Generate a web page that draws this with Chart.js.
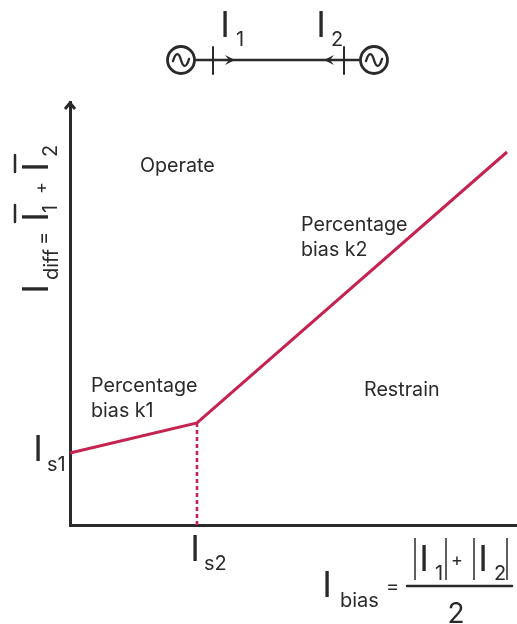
<!DOCTYPE html>
<html>
<head>
<meta charset="utf-8">
<script src="https://cdn.jsdelivr.net/npm/chart.js@4"></script>
<style>
  html, body { margin: 0; padding: 0; background: #fff; }
  canvas { display: block; }
</style>
</head>
<body>
<canvas id="chart" width="517" height="624"></canvas>
<script>
// characteristic (axis units)
var biasX = [0, 127, 437];
var diffY = [72, 102, 373];
var kneeX = [127, 127];
var kneeY = [0, 102];

var regionOperate = "Operate";
var regionRestrain = "Restrain";
var slopeK1 = ["Percentage", "bias k1"];
var slopeK2 = ["Percentage", "bias k2"];

var INK = "#2a2a2c";
var LINE_RED = "#c4244f";
var FONT = "Inter, 'Open Sans', sans-serif";
var LABEL = 19.7;

function pts(xs, ys) {
  return xs.map(function (x, i) { return { x: x, y: ys[i] }; });
}

function text(c, s, x, y, size, align) {
  c.font = size + "px " + FONT;
  c.textAlign = align || "left";
  c.textBaseline = "alphabetic";
  c.fillStyle = INK;
  c.fillText(s, x, y);
}
function seg(c, x1, y1, x2, y2, w) {
  c.strokeStyle = INK;
  c.lineWidth = w;
  c.beginPath();
  c.moveTo(x1, y1);
  c.lineTo(x2, y2);
  c.stroke();
}

// "I" with a subscript, baseline of the I given
function current(c, x, y, sub, dx, dy, subSize) {
  text(c, "I", x, y, 36, "center");
  text(c, sub, x + dx, y + dy, subSize || 20);
}

function source(c, x, y) {
  c.strokeStyle = INK;
  c.lineWidth = 2.8;
  c.beginPath();
  c.arc(x, y, 13.5, 0, Math.PI * 2);
  c.stroke();
  c.lineWidth = 2.4;
  c.beginPath();
  c.moveTo(x - 8, y + 1);
  c.bezierCurveTo(x - 5, y - 9, x - 2, y - 7, x, y);
  c.bezierCurveTo(x + 2, y + 7, x + 5, y + 9, x + 8, y - 1);
  c.stroke();
}

function head(c, x, y, dir) {
  c.fillStyle = INK;
  c.beginPath();
  c.moveTo(x + dir * 10, y);
  c.lineTo(x, y - 5);
  c.lineTo(x + 4 * dir, y);
  c.lineTo(x, y + 5);
  c.closePath();
  c.fill();
}

var annotations = {
  id: "annotations",
  afterDraw: function (chart) {
    var c = chart.ctx;
    var sx = chart.scales.x;
    c.save();
    c.lineCap = "round";

    // arrow on the y axis
    var ax = sx.getPixelForValue(0), top = chart.chartArea.top;
    c.lineCap = "butt";
    seg(c, ax - 5, top + 7, ax, top + 1, 3);
    seg(c, ax + 5, top + 7, ax, top + 1, 3);
    c.lineCap = "round";

    // region labels
    text(c, regionOperate, 140, 172, LABEL);
    text(c, regionRestrain, 364, 396, LABEL);
    text(c, slopeK1[0], 91, 392, LABEL);
    text(c, slopeK1[1], 91, 417, LABEL);
    text(c, slopeK2[0], 301, 231, LABEL);
    text(c, slopeK2[1], 301, 256, LABEL);

    // line diagram at the top
    source(c, 181, 60);
    source(c, 374, 60);
    seg(c, 195, 60, 360, 60, 2.5);
    seg(c, 213, 47, 213, 74, 2);
    seg(c, 344, 47, 344, 74, 2);
    head(c, 225, 60, 1);
    head(c, 334, 60, -1);
    current(c, 225, 37, "1", 11, 9);
    current(c, 321, 37, "2", 10, 9);

    // axis markers
    current(c, 38, 461, "s1", 9, 10);
    current(c, 195, 561, "s2", 9, 9);

    // y axis title
    c.save();
    c.translate(48, 289);
    c.rotate(-Math.PI / 2);
    text(c, "I", 0, 0, 36, "center");
    text(c, "diff", 9, 10, 20);
    text(c, "=", 44, 2, 20);
    text(c, "I", 72, 0, 36, "center");
    text(c, "1", 76, 9, 20);
    text(c, "+", 95, -1, 18);
    text(c, "I", 122, 0, 36, "center");
    text(c, "2", 132, 9, 20);
    c.restore();
    seg(c, 15, 205, 15, 222, 2.5);
    seg(c, 15, 155, 15, 172, 2.5);

    // bias formula
    current(c, 327, 597, "bias", 13, 10);
    text(c, "=", 386, 593, 20);
    seg(c, 407, 586, 512, 586, 2.5);
    c.lineCap = "butt";
    [415, 446, 474, 507].forEach(function (x) { seg(c, x, 538, x, 580, 1.5); });
    c.lineCap = "round";
    current(c, 424, 571, "1", 11, 9);
    text(c, "+", 451, 566, 18);
    current(c, 483, 571, "2", 11, 9);
    text(c, "2", 456, 623, 28, "center");

    c.restore();
  }
};

new Chart(document.getElementById("chart"), {
  type: "scatter",
  data: {
    datasets: [
      { data: pts(biasX, diffY), showLine: true, borderColor: LINE_RED,
        borderWidth: 3, pointRadius: 0, clip: false },
      { data: pts(kneeX, kneeY), showLine: true, borderColor: LINE_RED,
        borderWidth: 2.6, borderDash: [4, 3], pointRadius: 0, clip: false }
    ]
  },
  options: {
    responsive: false,
    animation: false,
    layout: { padding: { left: 70, right: 0, top: 102, bottom: 99 } },
    plugins: { legend: { display: false }, tooltip: { enabled: false } },
    scales: {
      x: { type: "linear", min: 0, max: 447, ticks: { display: false },
        grid: { display: false, drawTicks: false, tickLength: 0 },
        border: { display: true, color: INK, width: 3 } },
      y: { type: "linear", min: 0, max: 423, ticks: { display: false },
        grid: { display: false, drawTicks: false, tickLength: 0 },
        border: { display: true, color: INK, width: 3 } }
    }
  },
  plugins: [annotations]
});
</script>
</body>
</html>
